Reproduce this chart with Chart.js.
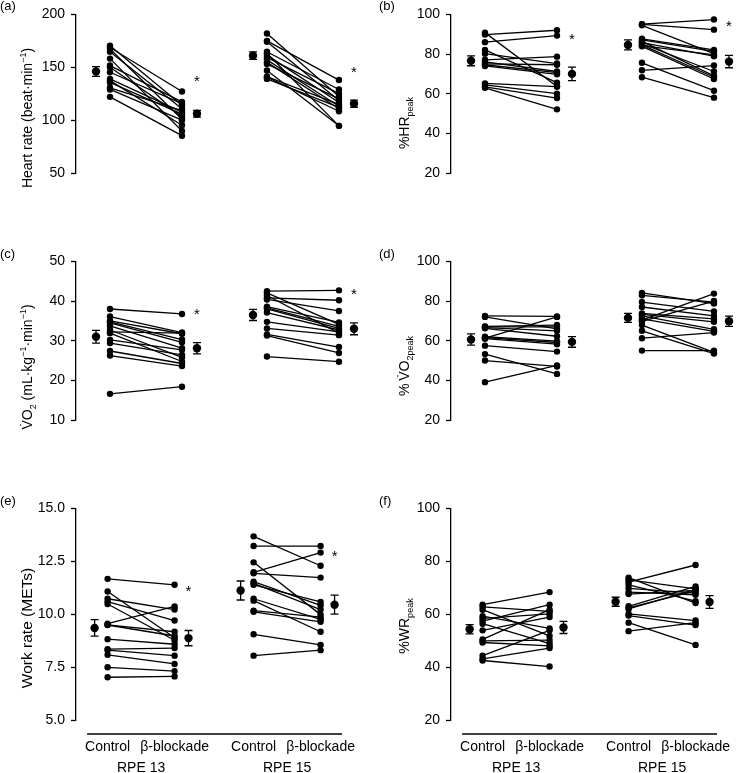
<!DOCTYPE html>
<html>
<head>
<meta charset="utf-8">
<script src="https://cdn.jsdelivr.net/npm/chart.js@4.4.0/dist/chart.umd.min.js"></script>
<style>
  html, body { margin: 0; padding: 0; background: #fff; }
  #fig { position: relative; width: 750px; height: 773px; font-family: 'Liberation Sans', Arial, sans-serif; color: #000; }
  .panel { position: absolute; }
  .tag { position: absolute; font-size: 13px; line-height: 1; }
  .ytitle { position: absolute; font-size: 14px; line-height: 1; white-space: nowrap; transform: translate(-50%, -50%) rotate(-90deg); }
  .ytitle sub, .ytitle sup { font-size: 9px; line-height: 0; }
</style>
</head>
<body>
<div id="fig">
  <div class="panel" style="left:0;top:0"><canvas id="c_a" width="375" height="247"></canvas></div>
  <div class="panel" style="left:375px;top:0"><canvas id="c_b" width="375" height="247"></canvas></div>
  <div class="panel" style="left:0;top:247px"><canvas id="c_c" width="375" height="247"></canvas></div>
  <div class="panel" style="left:375px;top:247px"><canvas id="c_d" width="375" height="247"></canvas></div>
  <div class="panel" style="left:0;top:494px"><canvas id="c_e" width="375" height="279"></canvas></div>
  <div class="panel" style="left:375px;top:494px"><canvas id="c_f" width="375" height="279"></canvas></div>

  <div class="tag" style="left:0;top:-1px">(a)</div>
  <div class="tag" style="left:379px;top:-1px">(b)</div>
  <div class="tag" style="left:0;top:247px">(c)</div>
  <div class="tag" style="left:379px;top:247px">(d)</div>
  <div class="tag" style="left:0;top:494px">(e)</div>
  <div class="tag" style="left:379px;top:494px">(f)</div>

  <div class="ytitle" style="left:27px;top:118px">Heart rate (beat·min<sup>−1</sup>)</div>
  <div class="ytitle" style="left:404px;top:123px">%HR<sub>peak</sub></div>
  <div class="ytitle" style="left:27px;top:367px">V̇O<sub>2</sub> (mL·kg<sup>−1</sup>·min<sup>−1</sup>)</div>
  <div class="ytitle" style="left:404px;top:366px">%&thinsp;V̇O<sub>2peak</sub></div>
  <div class="ytitle" style="left:27px;top:628px;font-size:15.5px">Work rate (METs)</div>
  <div class="ytitle" style="left:404px;top:626px">%WR<sub>peak</sub></div>
</div>

<script>
// categorias del eje x
var xLabels = ['Control', 'β-blockade', 'Control', 'β-blockade'];
var groupLabels = ['RPE 13', 'RPE 15'];

// (a) Heart rate
var hrC13 = [170.3, 168.7, 167.3, 164.7, 158.2, 151.6, 150.0, 145.3, 139.0, 137.4, 135.7, 130.6, 129.0, 122.0];
var hrB13 = [114.0, 127.1, 100.9, 110.7, 89.7, 117.3, 103.3, 115.6, 107.5, 95.1, 105.6, 109.1, 100.0, 85.3];
var hrC15 = [182.0, 175.0, 174.1, 164.7, 163.3, 161.5, 159.3, 157.0, 154.6, 153.2, 147.0, 141.2, 140.6, 139.0];
var hrB15 = [122.4, 137.9, 118.5, 129.0, 94.6, 116.6, 125.0, 113.1, 110.7, 120.1, 94.6, 115.0, 108.4, 112.0];
var hrMean = [146, 106, 161, 115.5];
var hrSem = [4.7, 3.2, 3.5, 3.5];
var hrStar = [139.7, 148.8];

// (b) %HRpeak
var phrC13 = [90.8, 89.8, 86.0, 82.1, 80.2, 77.1, 76.1, 75.0, 74.6, 74.0, 65.2, 64.4, 63.4, 63.0];
var phrB13 = [63.6, 92.0, 89.3, 65.6, 75.2, 78.7, 71.2, 74.6, 70.6, 69.8, 63.6, 60.0, 57.8, 52.1];
var phrC15 = [95.1, 95.0, 94.5, 87.7, 87.1, 86.4, 85.8, 85.2, 84.6, 84.2, 83.9, 75.6, 71.8, 68.3];
var phrB15 = [97.4, 92.3, 80.2, 82.1, 81.4, 69.0, 78.9, 71.2, 68.3, 79.6, 67.4, 61.5, 74.2, 58.0];
var phrMean = [76.6, 70.0, 84.6, 76.2];
var phrSem = [2.5, 3.4, 2.5, 3.1];
var phrStar = [89.3, 95.5];

// (c) VO2
var vo2C13 = [38.0, 36.1, 35.0, 34.75, 34.5, 33.75, 32.7, 32.25, 31.9, 30.2, 29.4, 27.4, 26.25, 16.6];
var vo2B13 = [36.75, 32.06, 31.75, 30.3, 29.6, 28.1, 25.8, 31.9, 24.75, 27.7, 26.4, 24.25, 23.6, 18.4];
var vo2C15 = [42.5, 42.06, 41.4, 40.8, 40.4, 38.6, 38.3, 38.0, 37.1, 34.75, 33.1, 31.6, 31.3, 26.0];
var vo2B15 = [42.7, 34.1, 31.9, 40.2, 37.5, 34.6, 33.6, 33.1, 32.7, 32.25, 31.4, 28.4, 26.9, 24.7];
var vo2Mean = [31.0, 28.1, 36.5, 33.0];
var vo2Sem = [1.6, 1.4, 1.4, 1.5];
var vo2Star = [37.5, 42.5];

// (d) %VO2peak
var pvoC13 = [72.5, 72.0, 67.25, 67.0, 66.6, 66.25, 62.0, 61.5, 61.25, 61.0, 57.5, 53.25, 50.0, 39.1];
var pvoB13 = [72.25, 66.0, 67.9, 67.0, 65.0, 62.25, 59.75, 59.1, 72.0, 58.25, 54.5, 43.25, 47.0, 47.5];
var pvoC15 = [84.1, 82.9, 79.5, 77.0, 73.75, 73.25, 72.5, 71.0, 70.4, 69.75, 67.9, 65.0, 61.25, 55.0];
var pvoB15 = [78.75, 79.5, 74.75, 72.5, 71.0, 69.5, 65.75, 64.75, 83.75, 80.0, 54.1, 53.5, 64.1, 55.0];
var pvoMean = [60.6, 59.4, 71.5, 69.8];
var pvoSem = [2.8, 2.7, 2.3, 2.6];
var pvoStar = [];

// (e) Work rate (METs)
var metC13 = [11.67, 11.07, 10.73, 10.6, 10.48, 9.55, 9.5, 9.49, 8.82, 8.35, 8.3, 8.08, 7.49, 7.02];
var metB13 = [11.39, 8.89, 10.22, 9.70, 8.77, 10.37, 9.17, 8.97, 8.58, 8.40, 8.04, 7.65, 7.31, 7.06];
var metC15 = [13.68, 13.22, 12.45, 11.98, 11.93, 11.54, 11.46, 11.39, 10.73, 10.64, 10.17, 10.11, 9.05, 8.04];
var metB15 = [12.29, 13.22, 9.98, 12.91, 11.73, 10.42, 10.22, 10.58, 9.75, 9.17, 9.86, 9.64, 8.55, 8.30];
var metMean = [9.35, 8.87, 11.12, 10.45];
var metSem = [0.39, 0.36, 0.45, 0.45];
var metStar = [11.26, 12.91];

// (f) %WRpeak
var pwrC13 = [63.6, 62.8, 61.7, 59.25, 58.4, 57.4, 56.4, 53.9, 50.5, 49.9, 49.3, 44.3, 43.1, 42.5];
var pwrB13 = [68.35, 61.1, 51.8, 54.6, 60.1, 63.6, 48.9, 58.9, 61.7, 50.2, 48.0, 53.9, 47.2, 40.2];
var pwrC15 = [73.8, 73.0, 72.1, 71.1, 69.8, 68.35, 67.6, 63.0, 62.4, 62.0, 60.1, 59.5, 56.8, 53.6];
var pwrB15 = [64.2, 69.6, 78.6, 64.9, 68.0, 67.35, 69.0, 70.5, 68.8, 69.4, 57.6, 55.9, 48.4, 56.8];
var pwrMean = [54.3, 55.0, 64.7, 64.6];
var pwrSem = [1.75, 2.3, 1.7, 2.4];
var pwrStar = [];

// posiciones en el eje x (unidades de la escala)
var xPos = [1, 2, 3.18, 4.18];
var meanPos = [0.806, 2.208, 2.986, 4.389];
var groupPos = [1.5, 3.68];
var X_MIN = 0.528, X_MAX = 4.5, X_LINE_START = 0.694;

Chart.defaults.font.family = "'Liberation Sans', Arial, sans-serif";
Chart.defaults.color = '#000';

function pairSet(x1, y1, x2, y2) {
    return {
        data: [{ x: x1, y: y1 }, { x: x2, y: y2 }],
        showLine: true,
        borderColor: '#000',
        borderWidth: 1.3,
        backgroundColor: '#000',
        pointRadius: 3.2,
        pointBorderWidth: 0,
        clip: false
    };
}

// barras de error (media ± EE)
var errorBars = {
    id: 'errorBars',
    afterDatasetsDraw: function (chart) {
        var ctx = chart.ctx, xs = chart.scales.x, ys = chart.scales.y;
        chart.data.datasets.forEach(function (ds) {
            if (!ds.err) return;
            ctx.save();
            ctx.strokeStyle = '#000';
            ctx.lineWidth = 1.3;
            ds.data.forEach(function (p, i) {
                var x = xs.getPixelForValue(p.x);
                var y1 = ys.getPixelForValue(p.y + ds.err[i]);
                var y2 = ys.getPixelForValue(p.y - ds.err[i]);
                ctx.beginPath();
                ctx.moveTo(x, y1); ctx.lineTo(x, y2);
                ctx.moveTo(x - 4, y1); ctx.lineTo(x + 4, y1);
                ctx.moveTo(x - 4, y2); ctx.lineTo(x + 4, y2);
                ctx.stroke();
            });
            ctx.restore();
        });
    }
};

function makePanel(id, c13, b13, c15, b15, mean, sem, stars, yMin, yMax, step, bottom) {
    var sets = [];
    c13.forEach(function (v, i) { sets.push(pairSet(xPos[0], v, xPos[1], b13[i])); });
    c15.forEach(function (v, i) { sets.push(pairSet(xPos[2], v, xPos[3], b15[i])); });
    sets.push({
        data: mean.map(function (m, i) { return { x: meanPos[i], y: m }; }),
        err: sem,
        showLine: false,
        backgroundColor: '#000',
        pointRadius: 4.2,
        pointBorderWidth: 0,
        clip: false
    });

    // asteriscos y linea del eje x
    var extras = {
        id: 'extras',
        afterDatasetsDraw: function (chart) {
            var ctx = chart.ctx, xs = chart.scales.x, ys = chart.scales.y;
            ctx.save();
            ctx.fillStyle = '#000';
            ctx.font = "15px 'Liberation Sans', Arial, sans-serif";
            ctx.textAlign = 'center';
            ctx.textBaseline = 'alphabetic';
            stars.forEach(function (v, i) {
                ctx.fillText('*', xs.getPixelForValue(meanPos[i * 2 + 1]), ys.getPixelForValue(v) + 8);
            });
            if (bottom) {
                var yl = chart.chartArea.bottom + 14;
                ctx.strokeStyle = '#000';
                ctx.lineWidth = 1.3;
                ctx.beginPath();
                ctx.moveTo(xs.getPixelForValue(X_LINE_START), yl);
                ctx.lineTo(xs.getPixelForValue(X_MAX), yl);
                ctx.stroke();
            }
            ctx.restore();
        }
    };

    var tickFont = { size: 14 };
    new Chart(document.getElementById(id), {
        type: 'scatter',
        data: { datasets: sets },
        options: {
            responsive: false,
            animation: false,
            events: [],
            layout: { autoPadding: false, padding: { top: 12, right: 13, bottom: bottom ? 0 : 21, left: 0 } },
            plugins: { legend: { display: false }, tooltip: { enabled: false } },
            scales: {
                x: {
                    type: 'linear', min: X_MIN, max: X_MAX, display: bottom,
                    afterBuildTicks: function (s) { s.ticks = xPos.map(function (v) { return { value: v }; }); },
                    afterFit: function (s) { s.height = 36; },
                    grid: { display: false, drawTicks: false },
                    border: { display: false },
                    ticks: { padding: 19, autoSkip: false, maxRotation: 0, font: tickFont,
                        callback: function (v, i) { return xLabels[i]; } }
                },
                x2: {
                    type: 'linear', position: 'bottom', min: X_MIN, max: X_MAX, display: bottom,
                    afterBuildTicks: function (s) { s.ticks = groupPos.map(function (v) { return { value: v }; }); },
                    afterFit: function (s) { s.height = 17; },
                    grid: { display: false, drawTicks: false },
                    border: { display: false },
                    ticks: { padding: 4, autoSkip: false, maxRotation: 0, font: tickFont,
                        callback: function (v, i) { return groupLabels[i]; } }
                },
                y: {
                    min: yMin, max: yMax,
                    afterFit: function (s) { s.width = 76; },
                    grid: { drawOnChartArea: false, drawTicks: true, tickLength: 5, tickColor: '#000', tickWidth: 1.3 },
                    border: { display: true, color: '#000', width: 1.3 },
                    ticks: { stepSize: step, padding: 6, font: tickFont,
                        callback: function (v) { return step < 5 ? v.toFixed(1) : v; } }
                }
            }
        },
        plugins: [errorBars, extras]
    });
}

makePanel('c_a', hrC13, hrB13, hrC15, hrB15, hrMean, hrSem, hrStar, 50, 200, 50, false);
makePanel('c_b', phrC13, phrB13, phrC15, phrB15, phrMean, phrSem, phrStar, 20, 100, 20, false);
makePanel('c_c', vo2C13, vo2B13, vo2C15, vo2B15, vo2Mean, vo2Sem, vo2Star, 10, 50, 10, false);
makePanel('c_d', pvoC13, pvoB13, pvoC15, pvoB15, pvoMean, pvoSem, pvoStar, 20, 100, 20, false);
makePanel('c_e', metC13, metB13, metC15, metB15, metMean, metSem, metStar, 5, 15, 2.5, true);
makePanel('c_f', pwrC13, pwrB13, pwrC15, pwrB15, pwrMean, pwrSem, pwrStar, 20, 100, 20, true);
</script>
</body>
</html>
